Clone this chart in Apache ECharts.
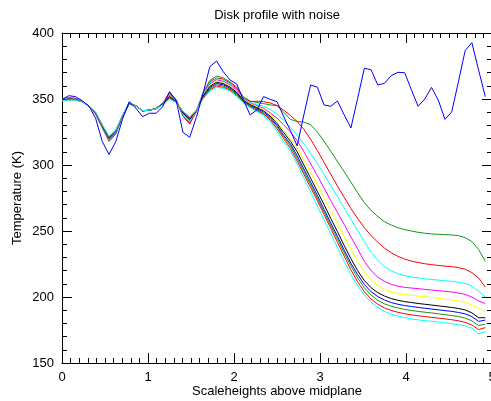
<!DOCTYPE html>
<html>
<head>
<meta charset="utf-8">
<script src="https://cdn.jsdelivr.net/npm/echarts@6/dist/echarts.min.js"></script>
<style>
  html, body { margin: 0; padding: 0; background: #fff; }
  #chart { width: 491px; height: 401px; }
</style>
</head>
<body>
<div id="chart"></div>
<script>
// Sample grid: 64 heights from the midplane, in scaleheights (step 5/64).
const scaleheights = Array.from({ length: 64 }, (_, i) => i * 5 / 64);

// Temperature profile with noise added (K).
const noisyProfile = [
  349.5, 352.5, 351.8, 348.7, 344.7, 335.4, 317.7, 308.0, 317.7, 334.6,
  348.0, 343.0, 336.6, 339.2, 339.2, 344.2, 355.6, 348.7, 324.8, 321.0,
  336.1, 354.3, 374.5, 378.8, 370.7, 364.4, 361.4, 349.2, 337.9, 341.7,
  351.8, 349.7, 348.0, 336.6, 326.0, 314.5, 338.0, 360.6, 359.0, 345.5,
  344.5, 348.5, 338.0, 328.0, 350.5, 373.3, 372.2, 360.6, 361.9, 367.7,
  370.2, 369.9, 357.0, 344.5, 350.0, 358.8, 349.2, 334.6, 340.2, 363.0,
  386.6, 392.7, 372.0, 351.8
];

// Smooth model profiles (K), from the warmest upper layer to the coolest.
const profileGreenA = [
  350.3, 351.0, 350.5, 348.3, 344.5, 338.5, 328.0, 317.8, 323.5, 336.5,
  346.0, 345.0, 341.0, 341.5, 343.0, 347.0, 354.0, 349.5, 337.5, 332.0,
  340.5, 355.0, 364.0, 367.4, 366.0, 363.0, 359.0, 351.5, 348.5, 347.3,
  346.5, 345.5, 345.0, 340.0, 334.5, 333.0, 332.5, 330.5, 325.0, 318.0,
  310.5, 302.5, 295.0, 287.0, 279.0, 271.5, 265.5, 261.0, 257.0, 254.5,
  252.5, 251.0, 250.0, 249.0, 248.3, 247.8, 247.5, 247.2, 247.0, 246.5,
  245.0, 242.0, 236.0, 227.0
];
const profileRedA = [
  350.1, 350.8, 350.4, 348.2, 344.5, 338.7, 328.3, 318.2, 323.8, 336.6,
  346.2, 344.9, 341.0, 341.5, 342.9, 346.8, 355.0, 349.2, 337.0, 331.0,
  340.6, 354.4, 363.1, 365.9, 365.1, 362.2, 358.2, 351.0, 348.0, 348.3,
  348.0, 347.0, 345.0, 341.5, 337.5, 333.0, 327.0, 319.5, 311.0, 302.0,
  293.0, 284.0, 275.5, 267.0, 259.5, 252.5, 246.5, 241.5, 237.0, 233.5,
  230.8, 228.7, 227.2, 226.1, 225.2, 224.5, 223.9, 223.4, 223.0, 222.3,
  221.0, 218.5, 214.5, 207.5
];
const profileCyanA = [
  349.9, 350.6, 350.2, 348.2, 344.6, 338.9, 328.6, 318.7, 324.2, 336.7,
  346.3, 344.9, 341.0, 341.5, 342.9, 346.7, 353.1, 349.0, 338.3, 333.0,
  340.7, 353.9, 362.2, 365.5, 364.2, 361.4, 357.4, 350.5, 347.4, 345.8,
  344.5, 342.0, 338.5, 334.0, 328.5, 322.5, 316.0, 309.0, 301.0, 293.0,
  284.5, 276.0, 267.5, 259.0, 250.5, 242.0, 234.0, 227.5, 223.0, 219.8,
  217.6, 216.2, 215.2, 214.5, 213.8, 213.3, 212.8, 212.3, 211.8, 211.2,
  210.2, 208.2, 204.5, 200.0
];
const profileMagenta = [
  349.7, 350.4, 350.1, 348.1, 344.6, 339.1, 328.8, 319.1, 324.5, 336.8,
  346.5, 344.8, 341.1, 341.5, 342.8, 346.5, 352.7, 348.7, 338.7, 333.5,
  340.8, 353.3, 361.3, 364.6, 363.3, 360.7, 356.7, 350.0, 346.8, 345.0,
  343.0, 339.5, 335.5, 330.5, 325.0, 318.5, 310.0, 301.0, 292.0, 282.5,
  273.0, 264.0, 255.0, 245.5, 236.5, 227.0, 220.0, 215.0, 211.8, 209.6,
  208.2, 207.3, 206.8, 206.3, 205.8, 205.3, 204.8, 204.3, 203.8, 203.0,
  202.0, 200.0, 197.0, 195.0
];
const profileYellow = [
  349.5, 350.2, 349.9, 348.1, 344.6, 339.3, 329.1, 319.6, 324.8, 336.9,
  346.7, 344.8, 341.1, 341.5, 342.8, 346.3, 352.2, 348.5, 339.1, 334.0,
  340.9, 352.8, 360.4, 363.6, 362.4, 359.9, 355.9, 349.5, 346.3, 344.3,
  342.0, 338.5, 333.0, 326.5, 320.0, 313.5, 304.0, 294.5, 285.0, 275.0,
  265.5, 255.5, 246.0, 236.5, 227.0, 219.0, 213.0, 208.8, 205.8, 203.8,
  202.5, 201.8, 201.3, 200.7, 200.2, 199.6, 199.0, 198.4, 197.8, 197.0,
  196.0, 194.0, 191.5, 188.8
];
const profileBlack = [
  349.4, 350.0, 349.8, 348.0, 344.7, 339.4, 329.4, 320.0, 325.2, 337.1,
  346.8, 344.7, 341.1, 341.5, 342.7, 346.2, 351.8, 348.2, 339.4, 334.5,
  341.1, 352.2, 359.6, 362.7, 361.6, 359.1, 355.1, 349.0, 345.7, 343.5,
  341.0, 337.0, 331.5, 324.5, 318.0, 310.0, 300.0, 290.0, 280.0, 270.0,
  259.5, 249.5, 239.0, 229.0, 220.0, 212.5, 207.0, 203.3, 200.7, 198.8,
  197.5, 196.5, 195.8, 195.1, 194.5, 193.9, 193.3, 192.7, 192.1, 191.3,
  190.2, 188.0, 184.3, 184.3
];
const profileBlue = [
  349.2, 349.8, 349.6, 348.0, 344.7, 339.6, 329.7, 320.5, 325.5, 337.2,
  347.0, 344.7, 341.1, 341.5, 342.7, 346.0, 351.3, 348.0, 339.8, 335.0,
  341.2, 351.7, 358.7, 361.7, 360.7, 358.3, 354.3, 348.5, 345.2, 342.8,
  340.0, 336.0, 330.0, 322.5, 316.0, 307.0, 297.0, 287.0, 277.0, 266.5,
  256.0, 246.0, 235.5, 225.5, 217.0, 209.5, 204.0, 200.3, 197.7, 195.8,
  194.5, 193.5, 192.8, 192.1, 191.5, 190.9, 190.3, 189.7, 189.1, 188.3,
  187.2, 185.2, 181.5, 182.5
];
const profileGreenB = [
  349.0, 349.6, 349.5, 347.9, 344.7, 339.8, 329.9, 320.9, 325.8, 337.3,
  347.2, 344.6, 341.2, 341.5, 342.6, 345.8, 350.9, 347.7, 340.2, 335.5,
  341.3, 351.1, 357.8, 360.8, 359.8, 357.6, 353.6, 348.0, 344.6, 342.0,
  339.0, 335.0, 329.0, 321.5, 314.5, 305.0, 295.0, 285.0, 275.0, 264.5,
  254.0, 244.0, 233.5, 223.5, 214.5, 207.0, 201.5, 197.5, 194.8, 193.0,
  191.7, 190.6, 189.8, 189.1, 188.5, 187.9, 187.3, 186.6, 186.0, 185.2,
  184.0, 182.0, 178.3, 179.5
];
const profileRedB = [
  348.8, 349.4, 349.3, 347.9, 344.8, 340.0, 330.2, 321.4, 326.2, 337.4,
  347.3, 344.6, 341.2, 341.5, 342.6, 345.7, 350.4, 347.5, 340.6, 336.0,
  341.4, 350.6, 356.9, 359.8, 358.9, 356.8, 352.8, 347.5, 344.1, 341.3,
  338.5, 334.0, 327.5, 320.0, 312.5, 303.0, 293.0, 283.0, 273.0, 262.5,
  252.0, 241.5, 231.0, 220.5, 211.5, 204.0, 198.5, 194.5, 191.7, 189.8,
  188.4, 187.3, 186.5, 185.8, 185.2, 184.6, 184.0, 183.4, 182.8, 182.0,
  180.8, 178.8, 175.3, 176.8
];
const profileCyanB = [
  348.6, 349.2, 349.2, 347.8, 344.8, 340.2, 330.5, 321.8, 326.5, 337.5,
  347.5, 344.5, 341.2, 341.5, 342.5, 345.5, 350.0, 347.2, 341.0, 336.5,
  341.5, 350.0, 356.0, 358.9, 358.0, 356.0, 352.0, 347.0, 343.5, 340.5,
  337.5, 332.5, 325.5, 317.5, 310.5, 300.5, 290.0, 279.5, 269.0, 258.5,
  248.0, 237.5, 227.0, 217.0, 208.5, 201.5, 196.0, 192.0, 189.0, 187.0,
  185.5, 184.4, 183.3, 182.7, 182.1, 181.6, 181.0, 180.4, 179.8, 179.0,
  178.2, 176.5, 172.2, 173.7
];

const xTicks = { min: 0, max: 5, interval: 1, minorSplit: 10 };
const yTicks = { min: 150, max: 400, interval: 50, minorSplit: 5 };

const FONT = '"Liberation Sans", Arial, Helvetica, sans-serif';
const GREEN = '#0f9a0f';

const models = [
  { data: profileGreenA, color: GREEN },
  { data: profileRedA, color: '#ff0000' },
  { data: profileCyanA, color: '#00ffff' },
  { data: profileMagenta, color: '#ff00ff' },
  { data: profileYellow, color: '#ffff00' },
  { data: profileBlack, color: '#000000' },
  { data: profileBlue, color: '#0000ff' },
  { data: profileGreenB, color: GREEN },
  { data: profileRedB, color: '#ff0000' },
  { data: profileCyanB, color: '#00ffff' }
];

function lineSeries(values, color) {
  return {
    type: 'line',
    xAxisIndex: 0,
    yAxisIndex: 0,
    data: scaleheights.map((z, i) => [z, values[i]]),
    symbol: 'none',
    showSymbol: false,
    lineStyle: { color: color, width: 1 },
    itemStyle: { color: color },
    emphasis: { disabled: true },
    animation: false,
    z: 2
  };
}

function xAxisBox(position, showLabels) {
  return {
    type: 'value',
    position: position,
    min: xTicks.min,
    max: xTicks.max,
    interval: xTicks.interval,
    axisLine: { show: true, onZero: false, lineStyle: { color: '#000', width: 1 } },
    axisTick: { show: true, inside: true, length: 10, lineStyle: { color: '#000', width: 1 } },
    minorTick: { show: true, splitNumber: xTicks.minorSplit, length: 5, lineStyle: { color: '#000', width: 1 } },
    splitLine: { show: false },
    axisLabel: { show: showLabels, color: '#000', fontSize: 13, fontFamily: FONT, margin: 8, hideOverlap: false },
    name: showLabels ? 'Scaleheights above midplane' : '',
    nameLocation: 'middle',
    nameGap: 22,
    nameMoveOverlap: false,
    nameTextStyle: { color: '#000', fontSize: 13, fontFamily: FONT }
  };
}

function yAxisBox(position, showLabels) {
  return {
    type: 'value',
    position: position,
    min: yTicks.min,
    max: yTicks.max,
    interval: yTicks.interval,
    axisLine: { show: true, onZero: false, lineStyle: { color: '#000', width: 1 } },
    axisTick: { show: true, inside: true, length: 10, lineStyle: { color: '#000', width: 1 } },
    minorTick: { show: true, splitNumber: yTicks.minorSplit, length: 5, lineStyle: { color: '#000', width: 1 } },
    splitLine: { show: false },
    axisLabel: { show: showLabels, color: '#000', fontSize: 13, fontFamily: FONT, margin: 8 },
    name: showLabels ? 'Temperature (K)' : '',
    nameLocation: 'middle',
    nameGap: 38,
    nameRotate: 90,
    nameMoveOverlap: false,
    nameTextStyle: { color: '#000', fontSize: 13, fontFamily: FONT }
  };
}

const chart = echarts.init(document.getElementById('chart'), null, { renderer: 'canvas' });

chart.setOption({
  animation: false,
  backgroundColor: '#ffffff',
  grid: { left: 62, right: -1, top: 33, bottom: 38, containLabel: false, outerBoundsMode: 'none' },
  xAxis: [xAxisBox('bottom', true), xAxisBox('top', false)],
  yAxis: [yAxisBox('left', true), yAxisBox('right', false)],
  graphic: [{
    type: 'text',
    x: 277,
    y: 15,
    style: {
      text: 'Disk profile with noise',
      fill: '#000',
      font: '13px ' + FONT,
      align: 'center',
      verticalAlign: 'middle'
    }
  }],
  series: models.map(m => lineSeries(m.data, m.color))
    .concat([lineSeries(noisyProfile, '#0000ff')])
});
</script>
</body>
</html>
